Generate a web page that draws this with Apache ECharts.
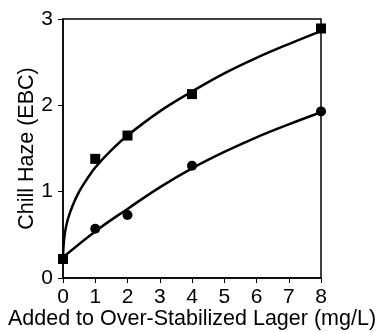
<!DOCTYPE html>
<html>
<head>
<meta charset="utf-8">
<script src="https://cdn.jsdelivr.net/npm/echarts@6/dist/echarts.min.js"></script>
<style>
  html, body { margin: 0; padding: 0; background: #fff; }
  #chart { width: 376px; height: 332px; }
</style>
</head>
<body>
<div id="chart"></div>
<script>
// measured points
const doseX = [0, 1, 2, 4, 8];
const squareY = [0.22, 1.38, 1.65, 2.13, 2.89];
const circleY = [0.22, 0.57, 0.73, 1.3, 1.93];

// fitted curves
const upperCurveX = [0, 0.05, 0.15, 0.3, 0.5, 0.75, 1, 1.5, 2, 3, 4, 5, 6, 7, 8];
const upperCurveY = [0.25, 0.5, 0.68, 0.84, 1.0, 1.15, 1.28, 1.48, 1.65, 1.93, 2.16, 2.37, 2.55, 2.71, 2.86];
const lowerCurveX = [0, 1, 2, 3, 4, 5, 6, 7, 8];
const lowerCurveY = [0.24, 0.54, 0.8, 1.05, 1.27, 1.46, 1.63, 1.78, 1.92];

const xTicks = [0, 1, 2, 3, 4, 5, 6, 7, 8];
const yTicks = [0, 1, 2, 3];

const zip = (xs, ys) => xs.map((x, i) => [x, ys[i]]);

const chart = echarts.init(document.getElementById("chart"));
const font = "Liberation Sans, Arial, sans-serif";

const option = {
  animation: false,
  grid: {
    left: 63,
    right: 55,
    top: 19,
    bottom: 54,
    outerBoundsMode: "none",
    containLabel: false,
    show: true,
    borderColor: "#000",
    borderWidth: 1.5,
  },
  xAxis: {
    type: "value",
    min: xTicks[0],
    max: xTicks[xTicks.length - 1],
    interval: 1,
    name: "Added to Over-Stabilized Lager (mg/L)",
    nameLocation: "middle",
    nameGap: 30,
    nameMoveOverlap: false,
    nameTextStyle: { color: "#000", fontSize: 21.5, fontFamily: font },
    axisLine: { lineStyle: { color: "#000", width: 1.5 } },
    axisTick: { length: 5, lineStyle: { color: "#000", width: 1 } },
    axisLabel: { color: "#000", fontSize: 21, fontFamily: font, margin: 9 },
    splitLine: { show: false },
  },
  yAxis: {
    type: "value",
    min: yTicks[0],
    max: yTicks[yTicks.length - 1],
    interval: 1,
    name: "Chill Haze (EBC)",
    nameLocation: "middle",
    nameGap: 25,
    nameMoveOverlap: false,
    nameRotate: 90,
    nameTextStyle: { color: "#000", fontSize: 21.5, fontFamily: font },
    axisLine: { lineStyle: { color: "#000", width: 1.5 } },
    axisTick: { length: 5, lineStyle: { color: "#000", width: 1 } },
    axisLabel: { color: "#000", fontSize: 21, fontFamily: font, margin: 10 },
    splitLine: { show: false },
  },
  series: [
    {
      type: "line",
      data: zip(upperCurveX, upperCurveY),
      smooth: 0.4,
      showSymbol: false,
      lineStyle: { color: "#000", width: 2.5 },
      z: 2,
    },
    {
      type: "line",
      data: zip(lowerCurveX, lowerCurveY),
      smooth: 0.4,
      showSymbol: false,
      lineStyle: { color: "#000", width: 2.5 },
      z: 2,
    },
    {
      type: "scatter",
      data: zip(doseX, circleY),
      symbol: "circle",
      symbolSize: 10,
      itemStyle: { color: "#000", opacity: 1 },
      clip: false,
      z: 3,
    },
    {
      type: "scatter",
      data: zip(doseX, squareY),
      symbol: "rect",
      symbolSize: 10,
      itemStyle: { color: "#000", opacity: 1 },
      clip: false,
      z: 4,
    },
  ],
};

chart.setOption(option);
</script>
</body>
</html>
